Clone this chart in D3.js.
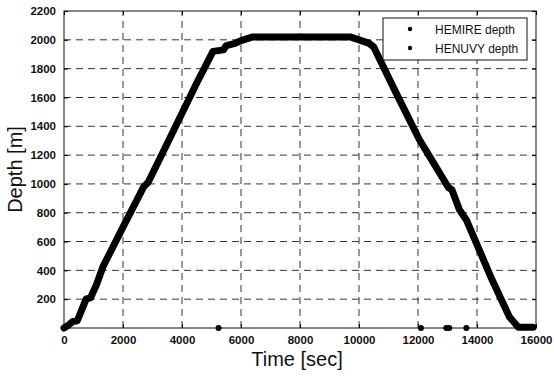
<!DOCTYPE html>
<html>
<head>
<meta charset="utf-8">
<script src="https://cdn.jsdelivr.net/npm/d3@7"></script>
<style>
  body { margin: 0; background: #fff; }
</style>
</head>
<body>
<div id="plot"></div>
<script>
// HEMIRE depth trace (time in sec, depth in m)
var hemireTime  = [0, 150, 300, 450, 650, 750, 900, 1100, 1330, 2000, 2700, 2850, 3500, 4500, 5050, 5400, 5500, 5800, 6000, 6400, 9700, 10000, 10350, 10500, 11260, 12040, 12350, 13030, 13150, 13400, 13640, 14080, 14500, 14830, 15100, 15400, 15900];
var hemireDepth = [0, 20, 45, 50, 150, 200, 210, 300, 430, 700, 980, 1010, 1280, 1700, 1920, 1930, 1960, 1975, 1995, 2020, 2020, 2000, 1975, 1950, 1630, 1310, 1205, 975, 960, 822, 750, 540, 340, 195, 77, 5, 5];
// HENUVY depth points
var henuvyTime  = [5240, 12100, 12960, 13060, 13640];
var henuvyDepth = [0, 0, 0, 0, 0];

var xTicks = [0, 2000, 4000, 6000, 8000, 10000, 12000, 14000, 16000];
var yTicks = [200, 400, 600, 800, 1000, 1200, 1400, 1600, 1800, 2000, 2200];
var legendLabels = ["HEMIRE depth", "HENUVY depth"];

var FONT = "'Liberation Sans', Arial, Helvetica, sans-serif";
var width = 554, height = 376;
var m = {left: 64, right: 18, top: 11, bottom: 48};

var svg = d3.select("#plot").append("svg")
  .attr("width", width).attr("height", height)
  .attr("font-family", FONT);

var x = d3.scaleLinear().domain([0, 16000]).range([m.left, width - m.right]);
var y = d3.scaleLinear().domain([0, 2200]).range([height - m.bottom, m.top]);

// grid
svg.append("g").selectAll("line").data(xTicks.slice(1, -1)).enter().append("line")
  .attr("x1", d => x(d)).attr("x2", d => x(d))
  .attr("y1", y(0)).attr("y2", y(2200))
  .attr("stroke", "#333").attr("stroke-width", 1).attr("stroke-dasharray", "7,5");
svg.append("g").selectAll("line").data(yTicks.slice(0, -1)).enter().append("line")
  .attr("x1", x(0)).attr("x2", x(16000))
  .attr("y1", d => y(d)).attr("y2", d => y(d))
  .attr("stroke", "#333").attr("stroke-width", 1).attr("stroke-dasharray", "7,5");

// frame
svg.append("rect")
  .attr("x", x(0)).attr("y", y(2200))
  .attr("width", x(16000) - x(0)).attr("height", y(0) - y(2200))
  .attr("fill", "none").attr("stroke", "#111").attr("stroke-width", 1);

// axes (inward ticks, like matlab)
var xaxis = d3.axisBottom(x).tickValues(xTicks).tickSizeInner(-4).tickSizeOuter(0).tickPadding(8).tickFormat(d3.format("d"));
var gx = svg.append("g").attr("transform", "translate(0," + y(0) + ")").call(xaxis);
gx.select(".domain").remove();
gx.selectAll("text").attr("font-size", "11.5px").attr("font-weight", "bold").attr("fill", "#111").attr("font-family", FONT);

var xtop = d3.axisTop(x).tickValues(xTicks).tickSizeInner(-4).tickSizeOuter(0).tickFormat("");
var gxt = svg.append("g").attr("transform", "translate(0," + y(2200) + ")").call(xtop);
gxt.select(".domain").remove();

var yaxis = d3.axisLeft(y).tickValues(yTicks).tickSizeInner(-4).tickSizeOuter(0).tickPadding(8).tickFormat(d3.format("d"));
var gy = svg.append("g").attr("transform", "translate(" + x(0) + ",0)").call(yaxis);
gy.select(".domain").remove();
gy.selectAll("text").attr("font-size", "11.5px").attr("font-weight", "bold").attr("fill", "#111").attr("font-family", FONT);

var yright = d3.axisRight(y).tickValues(yTicks).tickSizeInner(-4).tickSizeOuter(0).tickFormat("");
var gyr = svg.append("g").attr("transform", "translate(" + x(16000) + ",0)").call(yright);
gyr.select(".domain").remove();

// HEMIRE trace
var pts = hemireTime.map((t, i) => [t, hemireDepth[i]]);
var line = d3.line().x(d => x(d[0])).y(d => y(d[1]));
svg.append("path").datum(pts)
  .attr("d", line)
  .attr("fill", "none").attr("stroke", "#000")
  .attr("stroke-width", 7).attr("stroke-linejoin", "round").attr("stroke-linecap", "round");

// HENUVY points
svg.append("g").selectAll("circle").data(henuvyTime).enter().append("circle")
  .attr("cx", d => x(d)).attr("cy", (d, i) => y(henuvyDepth[i]))
  .attr("r", 3).attr("fill", "#000");

// legend
var lg = svg.append("g");
lg.append("rect").attr("x", 383).attr("y", 18).attr("width", 144).attr("height", 42)
  .attr("fill", "#fff").attr("stroke", "#111").attr("stroke-width", 1);
legendLabels.forEach(function(name, i){
  lg.append("circle").attr("cx", 410).attr("cy", 29 + i * 19).attr("r", 2.2).attr("fill", "#000");
  lg.append("text").attr("x", 435).attr("y", 33.5 + i * 19)
    .attr("font-size", "12px").attr("fill", "#111").text(name);
});

// axis titles
svg.append("text").attr("x", 297).attr("y", 366)
  .attr("text-anchor", "middle").attr("font-size", "20px").attr("fill", "#111")
  .text("Time [sec]");
svg.append("text")
  .attr("transform", "translate(22," + ((y(0) + y(2200)) / 2) + ") rotate(-90)")
  .attr("text-anchor", "middle").attr("font-size", "20px").attr("fill", "#111")
  .text("Depth [m]");
</script>
</body>
</html>
